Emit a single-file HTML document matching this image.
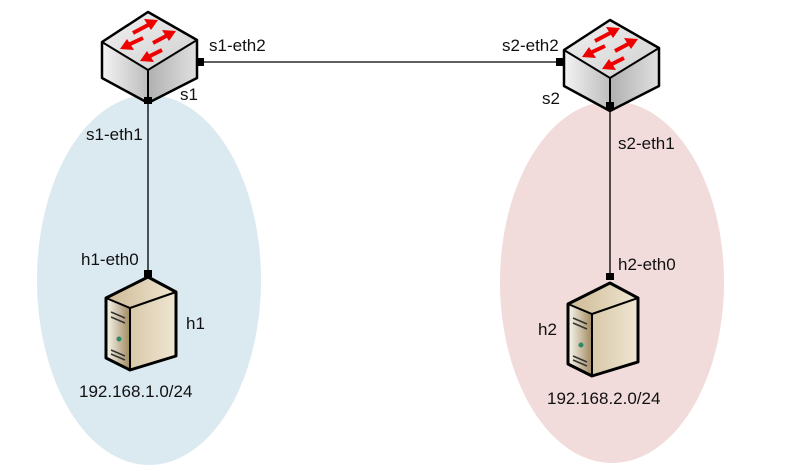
<!DOCTYPE html>
<html><head><meta charset="utf-8"><style>
body{margin:0;background:#fff}
svg{display:block;font-family:"Liberation Sans",sans-serif}
text{font-size:17px;fill:#111}
</style></head><body>
<svg width="787" height="471" viewBox="0 0 787 471">
<defs>
<linearGradient id="sl" x1="0" x2="1"><stop offset="0" stop-color="#f4f4f4"/><stop offset="1" stop-color="#bdbdbd"/></linearGradient>
<linearGradient id="sr" x1="0" x2="1"><stop offset="0" stop-color="#b0b0b0"/><stop offset="1" stop-color="#e0e0e0"/></linearGradient>
<linearGradient id="st" x1="0" x2="1" y1="0" y2="1"><stop offset="0" stop-color="#f2f2f2"/><stop offset="1" stop-color="#cfcfcf"/></linearGradient>
<linearGradient id="hf" x1="0" x2="1"><stop offset="0" stop-color="#cdb994"/><stop offset="1" stop-color="#efe6d2"/></linearGradient>
<linearGradient id="hs" x1="0" x2="1"><stop offset="0" stop-color="#fbf8f0"/><stop offset="1" stop-color="#a08a60"/></linearGradient>
<g id="sw">
<polygon points="148,12 197,40 197,78 148,103 102,78 102,42" fill="#ccc"/>
<polygon points="148,12 197,40 148,70 102,42" fill="url(#st)"/>
<polygon points="102,42 148,70 148,103 102,78" fill="url(#sl)"/>
<polygon points="148,70 197,40 197,78 148,103" fill="url(#sr)"/>
<polygon points="148,12 197,40 197,78 148,103 102,78 102,42" fill="none" stroke="#000" stroke-width="2.5" stroke-linejoin="round"/>
<polyline points="102,42 148,70 197,40" fill="none" stroke="#000" stroke-width="2"/>
<line x1="148" y1="70" x2="148" y2="103" stroke="#000" stroke-width="2"/>
<g stroke="#e00" stroke-width="4" fill="#e00">
<line x1="133" y1="33" x2="150" y2="24"/><polygon points="158,20 144,19 151,30" stroke="none"/>
<line x1="153" y1="43" x2="168" y2="35"/><polygon points="176,31 162,30 169,41" stroke="none"/>
<line x1="143" y1="38" x2="128" y2="45"/><polygon points="120,49 134,50 127,39" stroke="none"/>
<line x1="162" y1="50" x2="148" y2="57"/><polygon points="140,61 154,62 147,51" stroke="none"/>
</g>
</g>
<g id="host">
<polygon points="148,277 176,292 176,356 130,370 106,358 106,298" fill="url(#hf)"/>
<polygon points="106,298 130,308 130,370 106,358" fill="url(#hs)"/>
<polygon points="148,277 176,292 176,356 130,370 106,358 106,298" fill="none" stroke="#000" stroke-width="3" stroke-linejoin="round"/>
<polyline points="106,298 130,308 176,292" fill="none" stroke="#000" stroke-width="2"/>
<line x1="130" y1="308" x2="130" y2="370" stroke="#000" stroke-width="2"/>
<g stroke="#333" stroke-width="1.5"><line x1="111" y1="312" x2="125" y2="318"/><line x1="111" y1="317" x2="125" y2="323"/><line x1="111" y1="350" x2="125" y2="356"/><line x1="111" y1="354" x2="125" y2="360"/></g>
<circle cx="119" cy="339" r="2.5" fill="#2a8a6a"/>
</g>
</defs>
<ellipse cx="149" cy="280" rx="112" ry="185" fill="#dbeaf1"/>
<ellipse cx="612" cy="282" rx="112" ry="181" fill="#f1dbdb"/>
<g stroke="#000" stroke-width="1.3">
<line x1="200" y1="62" x2="560" y2="62"/>
<line x1="148" y1="100" x2="148" y2="274"/>
<line x1="610" y1="105" x2="610" y2="278"/>
</g>
<use href="#sw"/>
<use href="#sw" x="462" y="8"/>
<use href="#host"/>
<use href="#host" x="462" y="6"/>
<g fill="#000">
<rect x="197" y="58" width="7" height="8"/><rect x="556" y="58" width="7" height="8"/>
<rect x="144" y="97" width="8" height="7"/><rect x="144" y="270" width="8" height="7"/>
<rect x="606" y="102" width="8" height="7"/><rect x="606" y="273" width="8" height="7"/>
</g>
<text x="209" y="51">s1-eth2</text>
<text x="502" y="51">s2-eth2</text>
<text x="180" y="100">s1</text>
<text x="542" y="104">s2</text>
<text x="86" y="140">s1-eth1</text>
<text x="618" y="149">s2-eth1</text>
<text x="81" y="265">h1-eth0</text>
<text x="618" y="270">h2-eth0</text>
<text x="186" y="329">h1</text>
<text x="538" y="335">h2</text>
<text x="79" y="397">192.168.1.0/24</text>
<text x="547" y="404">192.168.2.0/24</text>
</svg>
</body></html>
